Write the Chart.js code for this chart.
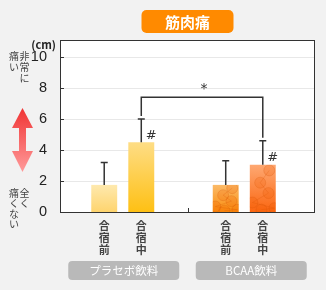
<!DOCTYPE html>
<html>
<head>
<meta charset="utf-8">
<script src="https://cdn.jsdelivr.net/npm/chart.js@4"></script>
<style>
  html, body { margin: 0; padding: 0; background: #f2f2f2; }
  #wrap { position: relative; width: 326px; height: 290px; }
</style>
</head>
<body>
<div id="wrap"><canvas id="chart" width="326" height="290"></canvas></div>
<script>
// data
const groups = ['プラセボ飲料', 'BCAA飲料'];
const phases = ['合宿前', '合宿中'];
const beforeCamp = [1.75, 1.75];
const duringCamp = [4.5, 3.05];
const beforeErrTop = [3.2, 3.3];
const duringErrTop = [6.0, 4.6];
const yTicks = [0, 2, 4, 6, 8, 10];
const bracketLevel = 7.4;

const JP = '"Noto Sans CJK JP", "Noto Sans", sans-serif';
const FRAME_LEFT = 60, FRAME_RIGHT = 315;

// top / bottom colours per group
const beforeColors = [['#fee9ae', '#fed46e'], ['#fbba68', '#fa8c0c']];
const duringColors = [['#fedd85', '#fec014'], ['#fea872', '#fb6610']];

function barGradient(colors) {
  return function (ctx) {
    const chart = ctx.chart;
    const c = colors[ctx.dataIndex] || colors[0];
    const y = chart.scales.y;
    if (!y || ctx.raw == null) return c[1];
    const top = y.getPixelForValue(ctx.raw);
    const bottom = y.getPixelForValue(0);
    if (!isFinite(top) || !isFinite(bottom) || top === bottom) return c[1];
    const g = chart.ctx.createLinearGradient(0, top, 0, bottom);
    g.addColorStop(0, c[0]);
    g.addColorStop(1, c[1]);
    return g;
  };
}

function roundRect(ctx, x, y, w, h, r) {
  ctx.beginPath();
  ctx.moveTo(x + r, y);
  ctx.arcTo(x + w, y, x + w, y + h, r);
  ctx.arcTo(x + w, y + h, x, y + h, r);
  ctx.arcTo(x, y + h, x, y, r);
  ctx.arcTo(x, y, x + w, y, r);
  ctx.closePath();
}

function verticalText(ctx, text, x, y, step) {
  [...text].forEach((ch, i) => ctx.fillText(ch, x, y + i * step));
}

// faint "molecule" texture on the BCAA bars
function molecules(ctx, bar) {
  const left = bar.x - bar.width / 2, top = bar.y, h = bar.base - bar.y;
  const pts = [[0.75, 0.12], [0.4, 0.38], [0.72, 0.6], [0.1, 0.8], [0.95, 0.92], [0.45, 0.95]];
  ctx.save();
  ctx.beginPath();
  ctx.rect(left, top, bar.width, h);
  ctx.clip();
  ctx.strokeStyle = 'rgba(210,80,0,0.22)';
  ctx.lineWidth = 1;
  ctx.beginPath();
  pts.forEach(([px, py], i) => {
    const x = left + px * bar.width, y = top + Math.min(py * h, h);
    if (i === 0) ctx.moveTo(x, y); else ctx.lineTo(x, y);
  });
  ctx.stroke();
  pts.forEach(([px, py]) => {
    const x = left + px * bar.width, y = top + Math.min(py * h, h);
    ctx.beginPath();
    ctx.arc(x, y, 5.5, 0, Math.PI * 2);
    ctx.fillStyle = 'rgba(240,90,0,0.2)';
    ctx.fill();
    ctx.stroke();
  });
  ctx.restore();
}

const decorations = {
  id: 'decorations',
  beforeDatasetsDraw(chart) {
    const { ctx, chartArea: a, scales } = chart;
    ctx.save();
    ctx.fillStyle = '#ffffff';
    ctx.fillRect(FRAME_LEFT, a.top, FRAME_RIGHT - FRAME_LEFT, a.bottom - a.top);
    ctx.strokeStyle = '#e8e8e8';
    ctx.lineWidth = 1;
    yTicks.forEach(v => {
      const py = Math.round(scales.y.getPixelForValue(v)) + 0.5;
      ctx.beginPath();
      ctx.moveTo(FRAME_LEFT, py);
      ctx.lineTo(FRAME_RIGHT, py);
      ctx.stroke();
    });
    ctx.restore();
  },
  afterDatasetsDraw(chart) {
    const { ctx, chartArea: a, scales } = chart;
    const ys = scales.y;
    const bars = [chart.getDatasetMeta(0).data, chart.getDatasetMeta(1).data];
    const errTops = [beforeErrTop, duringErrTop];
    const frameW = FRAME_RIGHT - FRAME_LEFT;
    ctx.save();

    bars.forEach(set => molecules(ctx, set[1]));

    // frame
    ctx.strokeStyle = '#333';
    ctx.lineWidth = 1;
    ctx.strokeRect(FRAME_LEFT + 0.5, a.top + 0.5, frameW - 1, a.bottom - a.top);

    // inner tick marks
    yTicks.forEach(v => {
      const py = Math.round(ys.getPixelForValue(v)) + 0.5;
      ctx.beginPath();
      ctx.moveTo(FRAME_LEFT, py);
      ctx.lineTo(FRAME_LEFT + 4, py);
      ctx.stroke();
    });
    // group divider tick
    const midX = Math.round(FRAME_LEFT + frameW / 2) + 0.5;
    ctx.beginPath();
    ctx.moveTo(midX, a.bottom - 4);
    ctx.lineTo(midX, a.bottom);
    ctx.stroke();

    // error bars
    ctx.lineWidth = 1.5;
    ctx.strokeStyle = '#333';
    bars.forEach((set, d) => set.forEach((bar, i) => {
      const yt = ys.getPixelForValue(errTops[d][i]);
      ctx.beginPath();
      ctx.moveTo(bar.x, bar.y);
      ctx.lineTo(bar.x, yt);
      ctx.moveTo(bar.x - 3.5, yt);
      ctx.lineTo(bar.x + 3.5, yt);
      ctx.stroke();
    }));

    // significance bracket between the two "during" bars
    const b1 = bars[1][0], b2 = bars[1][1];
    const yb = ys.getPixelForValue(bracketLevel);
    ctx.beginPath();
    ctx.moveTo(b1.x, ys.getPixelForValue(duringErrTop[0]) - 3);
    ctx.lineTo(b1.x, yb);
    ctx.lineTo(b2.x, yb);
    ctx.lineTo(b2.x, ys.getPixelForValue(duringErrTop[1]) - 3);
    ctx.stroke();

    ctx.fillStyle = '#333';
    ctx.textAlign = 'center';
    ctx.textBaseline = 'middle';
    ctx.font = '14px "DejaVu Sans", sans-serif';
    ctx.fillText('*', (b1.x + b2.x) / 2 + 2, yb - 8);
    ctx.font = '13px "DejaVu Sans", sans-serif';
    bars[1].forEach(bar => ctx.fillText('#', bar.x + 10, bar.y - 7));

    // vertical phase labels under each bar
    ctx.fillStyle = '#444';
    ctx.font = 'bold 11px ' + JP;
    bars.forEach((set, d) => set.forEach(bar => verticalText(ctx, phases[d], bar.x, 226, 11.7)));

    // group pills
    groups.forEach((g, i) => {
      const cx = FRAME_LEFT + frameW * (i + 0.5) / groups.length;
      ctx.fillStyle = '#b9b9b9';
      roundRect(ctx, cx - 55.5, 261, 111, 19, 4);
      ctx.fill();
      ctx.fillStyle = '#ffffff';
      ctx.font = '11.5px ' + JP;
      ctx.fillText(g, cx, 271);
    });

    // title
    const tx = FRAME_LEFT + frameW / 2;
    ctx.fillStyle = '#ff8a00';
    roundRect(ctx, tx - 46, 10, 92, 23, 5);
    ctx.fill();
    ctx.fillStyle = '#ffffff';
    ctx.font = 'bold 15px ' + JP;
    ctx.fillText('筋肉痛', tx, 22);

    // unit
    ctx.fillStyle = '#222';
    ctx.font = 'bold 11px ' + JP;
    ctx.textAlign = 'right';
    ctx.fillText('(cm)', 56, 45);

    // left scale descriptors
    ctx.textAlign = 'center';
    ctx.fillStyle = '#444';
    ctx.font = '10px ' + JP;
    verticalText(ctx, '非常に', 24.5, 56, 11);
    verticalText(ctx, '痛い', 14, 56, 11);
    verticalText(ctx, '全く', 24.5, 193, 10.4);
    verticalText(ctx, '痛くない', 14, 193, 10.4);

    // double arrow
    const grad = ctx.createLinearGradient(0, 108, 0, 172);
    grad.addColorStop(0, '#f03434');
    grad.addColorStop(1, '#ff9a9a');
    ctx.fillStyle = grad;
    ctx.beginPath();
    ctx.moveTo(22.5, 108);
    ctx.lineTo(33, 128);
    ctx.lineTo(26, 128);
    ctx.lineTo(26, 151);
    ctx.lineTo(33, 151);
    ctx.lineTo(22.5, 172);
    ctx.lineTo(12, 151);
    ctx.lineTo(19, 151);
    ctx.lineTo(19, 128);
    ctx.lineTo(12, 128);
    ctx.closePath();
    ctx.fill();

    ctx.restore();
  }
};

new Chart(document.getElementById('chart'), {
  type: 'bar',
  data: {
    labels: groups,
    datasets: [
      { label: phases[0], data: beforeCamp, backgroundColor: barGradient(beforeColors) },
      { label: phases[1], data: duringCamp, backgroundColor: barGradient(duringColors) }
    ]
  },
  options: {
    responsive: false,
    animation: false,
    layout: { padding: { top: 40, right: 21, bottom: 78, left: 0 } },
    categoryPercentage: 0.61,
    barPercentage: 0.7,
    plugins: { legend: { display: false }, tooltip: { enabled: false } },
    scales: {
      x: { display: false },
      y: {
        min: 0,
        max: 11.1,
        afterBuildTicks: s => { s.ticks = yTicks.map(v => ({ value: v })); },
        afterFit: s => { s.width = 62; },
        border: { display: false },
        grid: { display: false },
        ticks: { color: '#222', padding: 7, font: { size: 14.5, family: '"Liberation Sans", sans-serif' } }
      }
    }
  },
  plugins: [decorations]
});
</script>
</body>
</html>
